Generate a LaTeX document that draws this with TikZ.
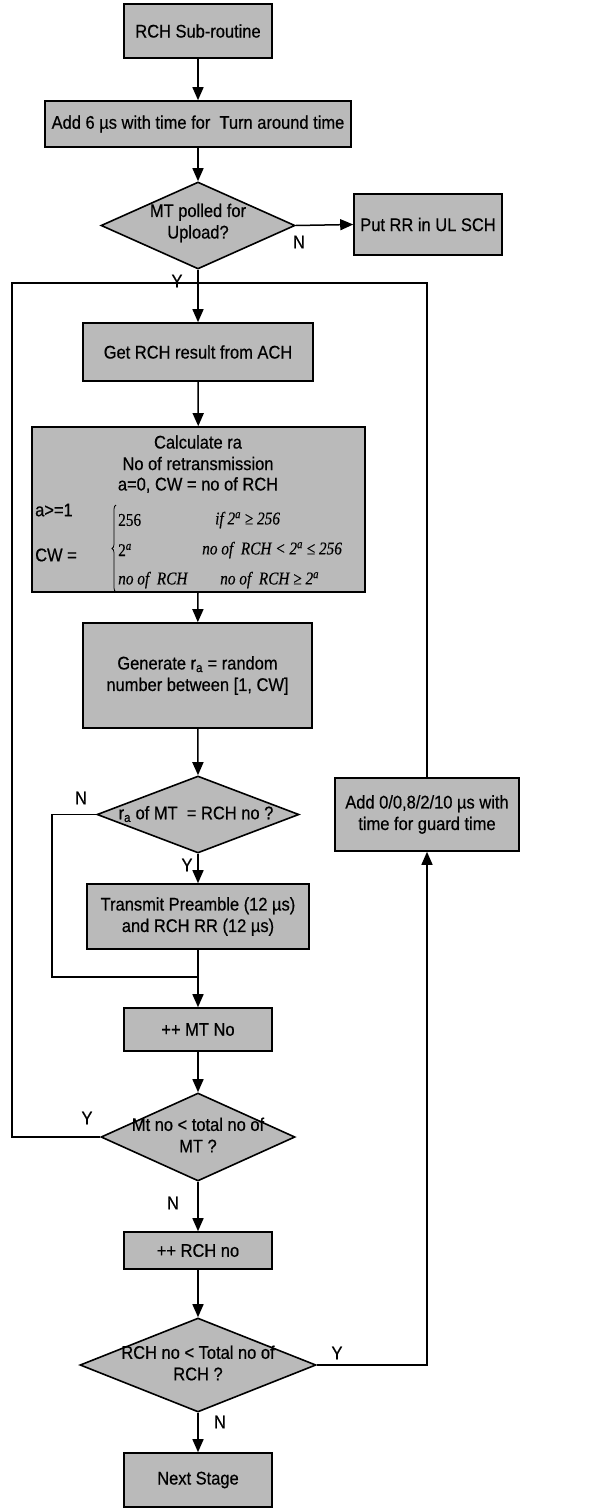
\documentclass[tikz,border=0pt]{standalone}
\usepackage{fontspec}
\setmainfont{Liberation Sans}[FakeStretch=0.9,FakeBold=0.5]
\newfontfamily\tms{Liberation Serif}[FakeStretch=0.85,FakeBold=0.3]
\usetikzlibrary{shapes.geometric,arrows.meta,decorations.pathreplacing}
\begin{document}
\begin{tikzpicture}[x=1pt,y=-1pt,
  box/.style={draw=black,line width=1.6pt,fill=black!27,rectangle,inner sep=0pt,
    align=center,font=\fontsize{18.3}{21.5}\selectfont},
  dia/.style={draw=black,line width=1.6pt,fill=black!27,diamond,inner sep=0pt},
  txt/.style={inner sep=0pt,align=center,font=\fontsize{18.3}{21.5}\selectfont},
  lbl/.style={inner sep=0pt,font=\fontsize{18.3}{21.5}\selectfont},
  mth/.style={inner sep=0pt,anchor=west,font=\tms\fontsize{18}{21}\selectfont},
  line/.style={line width=1.5pt},
  arr/.style={line width=1.5pt,-{Triangle[length=13pt,width=11pt]}}]
\useasboundingbox (0,0) rectangle (595,1509);

% nodes
\node[box,minimum width=148pt,minimum height=54pt] (sub) at (198,31) {RCH Sub-routine};
\node[box,minimum width=306pt,minimum height=46pt] (add) at (198,124) {Add 6 µs with time for\ \ Turn around time};
\node[dia,minimum width=194pt,minimum height=87pt] (d1) at (198,225.5) {};
\node[txt] (d1t) at (198,223) {MT polled for\\Upload?};
\node[box,minimum width=148pt,minimum height=61pt] (rr) at (428,224.5) {Put RR in UL SCH};
\coordinate (j1) at (198,283);

\node[box,minimum width=230pt,minimum height=58pt] (get) at (198,352) {Get RCH result from ACH};

\node[box,minimum width=333pt,minimum height=165pt] (calc) at (198.5,509.5) {};
\node[txt] (c1) at (198,442) {Calculate ra};
\node[txt] (c2) at (198,463.5) {No of retransmission};
\node[txt] (c3) at (198,485) {a=0, CW = no of RCH};
\node[lbl,anchor=west] (c4) at (35,510) {a>=1};
\node[lbl,anchor=west] (c5) at (35,555) {CW =};
\coordinate (bra) at (116,592);
\coordinate (brb) at (116,505);
\draw[line width=0.8pt,decorate,decoration={brace,amplitude=4pt}] (bra) -- (brb);
\node[mth] (m1) at (118,520) {256};
\node[mth] (m2) at (215,520) {\itshape if 2\textsuperscript{a} ≥ 256};
\node[mth] (m3) at (118,550) {2\textsuperscript{\itshape a}};
\node[mth] (m4) at (202,550) {\itshape no of\ \ RCH < 2\textsuperscript{a} ≤ 256};
\node[mth] (m5) at (118,580) {\itshape no of\ \ RCH};
\node[mth] (m6) at (220,580) {\itshape no of\ \ RCH ≥ 2\textsuperscript{a}};

\node[box,minimum width=229pt,minimum height=105pt] (gen) at (197.5,675.5) {Generate r\textsubscript{a} = random\\number between [1, CW]};

\node[dia,minimum width=202pt,minimum height=77pt] (d2) at (198,814.5) {};
\node[txt] (d2t) at (196,814) {r\textsubscript{a} of MT\ \ = RCH no ?};
\node[box,minimum width=184pt,minimum height=73pt] (guard) at (427,814.5) {Add 0/0,8/2/10 µs with\\time for guard time};
\coordinate (n2a) at (52,814.5);
\coordinate (n2b) at (52,977);
\coordinate (j2) at (198,977);

\node[box,minimum width=222pt,minimum height=65pt] (tx) at (198,916.5) {Transmit Preamble (12 µs)\\and RCH RR (12 µs)};
\node[box,minimum width=148pt,minimum height=43pt] (mt) at (198,1029.5) {++ MT No};

\node[dia,minimum width=194pt,minimum height=88pt] (d3) at (198,1137) {};
\node[txt] (d3t) at (198,1135) {Mt no < total no of\\MT ?};
\coordinate (l3a) at (12,1137);
\coordinate (l3b) at (12,283);

\node[box,minimum width=148pt,minimum height=37pt] (rch) at (198,1250.5) {++ RCH no};

\node[dia,minimum width=236pt,minimum height=94pt] (d4) at (198,1365) {};
\node[txt] (d4t) at (198,1363) {RCH no < Total no of\\RCH ?};
\coordinate (r4) at (427,1365);
\coordinate (rtop) at (427,283);

\node[box,minimum width=148pt,minimum height=54pt] (next) at (198,1480) {Next Stage};

% labels
\node[lbl] (ln1) at (299,242) {N};
\node[lbl] (ly1) at (177,281) {Y};
\node[lbl] (ln2) at (81,798) {N};
\node[lbl] (ly2) at (187,865) {Y};
\node[lbl] (ly3) at (87,1118) {Y};
\node[lbl] (ln3) at (173,1203) {N};
\node[lbl] (ly4) at (337,1353) {Y};
\node[lbl] (ln4) at (220,1422) {N};

% connectors
\draw[arr] (sub) -- (add);
\draw[arr] (add) -- (d1.north);
\draw[arr] (d1.east) -- (rr.west);
\draw[arr] (d1.south) -- (get.north);
\draw[arr] (get) -- (calc);
\draw[arr] (calc) -- (gen);
\draw[arr] (gen) -- (d2.north);
\draw[arr] (d2.south) -- (tx.north);
\draw[line] (d2.west) -- (n2a) -- (n2b) -- (j2);
\draw[arr] (tx) -- (mt);
\draw[arr] (mt) -- (d3.north);
\draw[line] (d3.west) -- (l3a) -- (l3b) -- (j1);
\draw[arr] (d3.south) -- (rch.north);
\draw[arr] (rch) -- (d4.north);
\draw[arr] (d4.south) -- (next.north);
\draw[arr] (d4.east) -- (r4) -- (guard.south);
\draw[line] (guard.north) -- (rtop) -- (j1);
\end{tikzpicture}
\end{document}
